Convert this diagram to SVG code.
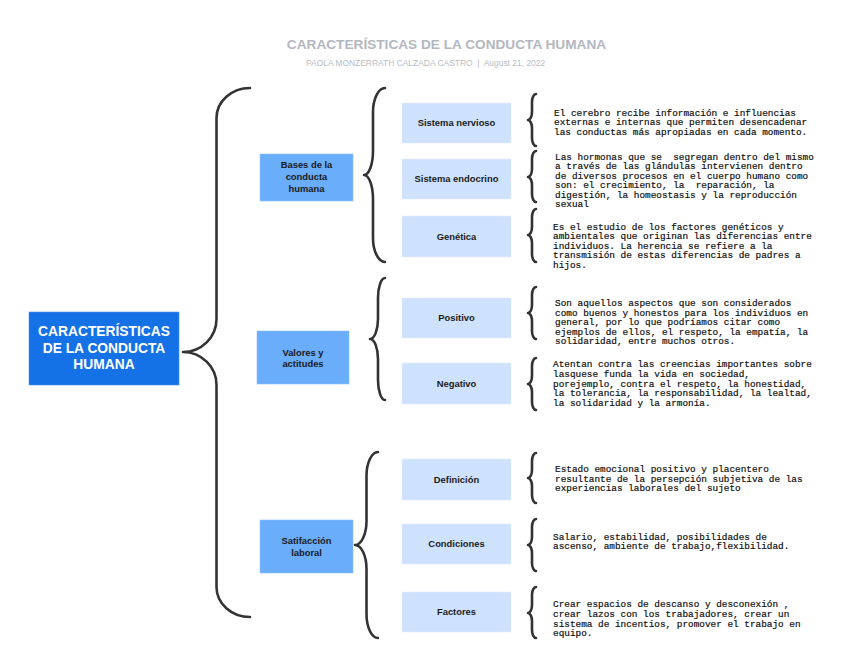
<svg xmlns="http://www.w3.org/2000/svg" width="848" height="655" viewBox="0 0 848 655" xml:space="preserve">
<style>
text{white-space:pre}
.title{font-family:"Liberation Sans",Arial,sans-serif;font-weight:bold;font-size:13.65px;fill:#b3b7bf;text-anchor:middle}
.sub{font-family:"Liberation Sans",Arial,sans-serif;font-size:8.45px;fill:#b9bcc4}
.main{fill:#1472e6;stroke:#4d95f0;stroke-width:0.6}
.mainT{font-family:"Liberation Sans",Arial,sans-serif;font-weight:bold;font-size:13.8px;fill:#ffffff;text-anchor:middle}
.cat{fill:#6aadfb;stroke:#8cc0fc;stroke-width:0.6}
.sb{fill:#cfe2fd;stroke:#e0ecfe;stroke-width:0.6}
.lbl{font-family:"Liberation Sans",Arial,sans-serif;font-weight:bold;font-size:9.4px;fill:#1a1a1a;text-anchor:middle}
.desc text{font-family:"Liberation Mono","Courier New",monospace;font-size:9.4px;fill:#111;stroke:#111;stroke-width:0.2;white-space:pre}
.br{fill:none;stroke:#333;stroke-width:2.6;stroke-linecap:round;stroke-linejoin:round}
</style>
<rect width="848" height="655" fill="#ffffff"/>
<text class="title" x="446.5" y="49">CARACTERÍSTICAS DE LA CONDUCTA HUMANA</text>
<text class="sub" x="306" y="65.5">PAOLA MONZERRATH CALZADA CASTRO  |  August 21, 2022</text>
<g id="connectors">
<path class="br" d="M250,88 C231.6,88 216.5,101.5 216.5,118 L216.5,319 C216.5,337.2 201.4,352 183,352 C201.4,352 216.5,366.8 216.5,385 L216.5,587 C216.5,603.5 231.6,617 250,617"/>
<path class="br" d="M385,88 C378.4,88 373,98.8 373,112 L373,151 C373,164.2 369,175 364,175 C369,175 373,185.8 373,199 L373,238 C373,251.2 378.4,262 385,262"/>
<path class="br" d="M385,278 C381.2,278 378,287 378,298 L378,319 C378,330 374.4,339 370,339 C374.4,339 378,348 378,359 L378,380 C378,391 381.2,400 385,400"/>
<path class="br" d="M378,452 C371.7,452 366.5,462.8 366.5,476 L366.5,521 C366.5,534.2 361.3,545 355,545 C361.3,545 366.5,555.8 366.5,569 L366.5,614 C366.5,627.2 371.7,638 378,638"/>
<path class="br" d="M536,94 C533.8,94 532,97.6 532,102 L532,112 C532,116.4 530.2,120 528,120 C530.2,120 532,123.6 532,128 L532,138 C532,142.4 533.8,146 536,146"/>
<path class="br" d="M536,151 C533.8,151 532,154.6 532,159 L532,169 C532,173.4 530.2,177 528,177 C530.2,177 532,180.6 532,185 L532,194 C532,198.4 533.8,202 536,202"/>
<path class="br" d="M536,209 C533.8,209 532,212.6 532,217 L532,227 C532,231.4 530.2,235 528,235 C530.2,235 532,238.6 532,243 L532,254 C532,258.4 533.8,262 536,262"/>
<path class="br" d="M536,287 C533.8,287 532,290.6 532,295 L532,305 C532,309.4 530.2,313 528,313 C530.2,313 532,316.6 532,321 L532,331 C532,335.4 533.8,339 536,339"/>
<path class="br" d="M536,358 C533.8,358 532,361.6 532,366 L532,376 C532,380.4 530.2,384 528,384 C530.2,384 532,387.6 532,392 L532,402 C532,406.4 533.8,410 536,410"/>
<path class="br" d="M536,453 C533.8,453 532,456.6 532,461 L532,470 C532,474.4 530.2,478 528,478 C530.2,478 532,481.6 532,486 L532,495 C532,499.4 533.8,503 536,503"/>
<path class="br" d="M536,519 C533.8,519 532,522.6 532,527 L532,537 C532,541.4 530.2,545 528,545 C530.2,545 532,548.6 532,553 L532,563 C532,567.4 533.8,571 536,571"/>
<path class="br" d="M536,587 C533.8,587 532,590.6 532,595 L532,605 C532,609.4 530.2,613 528,613 C530.2,613 532,616.6 532,621 L532,630 C532,634.4 533.8,638 536,638"/>
</g>
<g id="root">
<rect class="main" x="29" y="312" width="150" height="73"/>
<text class="mainT" x="104" y="335.7">CARACTERÍSTICAS</text>
<text class="mainT" x="104" y="352.5">DE LA CONDUCTA</text>
<text class="mainT" x="104" y="369.3">HUMANA</text>
</g>
<g id="bases">
<rect class="cat" x="260" y="154" width="93" height="47"/>
<text class="lbl" x="306.5" y="168.4">Bases de la</text>
<text class="lbl" x="306.5" y="180">conducta</text>
<text class="lbl" x="306.5" y="191.7">humana</text>
</g>
<g id="valores">
<rect class="cat" x="257" y="331" width="92" height="53"/>
<text class="lbl" x="303" y="355.7">Valores y</text>
<text class="lbl" x="303" y="367.4">actitudes</text>
</g>
<g id="satisfaccion">
<rect class="cat" x="260" y="520" width="93" height="53"/>
<text class="lbl" x="306.5" y="544">Satifacción</text>
<text class="lbl" x="306.5" y="555.7">laboral</text>
</g>
<g id="nervioso">
<rect class="sb" x="402" y="103" width="109" height="40"/>
<text class="lbl" x="456.5" y="126.3">Sistema nervioso</text>
</g>
<g id="endocrino">
<rect class="sb" x="402" y="159" width="109" height="40"/>
<text class="lbl" x="456.5" y="182.3">Sistema endocrino</text>
</g>
<g id="genetica">
<rect class="sb" x="402" y="216" width="109" height="41"/>
<text class="lbl" x="456.5" y="239.8">Genética</text>
</g>
<g id="positivo">
<rect class="sb" x="402" y="298" width="109" height="40"/>
<text class="lbl" x="456.5" y="321.3">Positivo</text>
</g>
<g id="negativo">
<rect class="sb" x="402" y="363" width="109" height="41"/>
<text class="lbl" x="456.5" y="386.8">Negativo</text>
</g>
<g id="definicion">
<rect class="sb" x="402" y="459" width="109" height="41"/>
<text class="lbl" x="456.5" y="482.8">Definición</text>
</g>
<g id="condiciones">
<rect class="sb" x="402" y="524" width="109" height="40"/>
<text class="lbl" x="456.5" y="547.3">Condiciones</text>
</g>
<g id="factores">
<rect class="sb" x="402" y="592" width="109" height="40"/>
<text class="lbl" x="456.5" y="615.3">Factores</text>
</g>
<g id="desc-nervioso" class="desc">
<text x="554" y="115.5">El cerebro recibe información e influencias</text>
<text x="554" y="125">externas e internas que permiten desencadenar</text>
<text x="554" y="134.5">las conductas más apropiadas en cada momento.</text>
</g>
<g id="desc-endocrino" class="desc">
<text x="555" y="160">Las hormonas que se  segregan dentro del mismo</text>
<text x="555" y="169.4">a través de las glándulas intervienen dentro</text>
<text x="555" y="178.8">de diversos procesos en el cuerpo humano como</text>
<text x="555" y="188.2">son: el crecimiento, la  reparación, la</text>
<text x="555" y="197.6">digestión, la homeostasis y la reproducción</text>
<text x="555" y="207">sexual</text>
</g>
<g id="desc-genetica" class="desc">
<text x="553" y="229.5">Es el estudio de los factores genéticos y</text>
<text x="553" y="239">ambientales que originan las diferencias entre</text>
<text x="553" y="248.5">individuos. La herencia se refiere a la</text>
<text x="553" y="258">transmisión de estas diferencias de padres a</text>
<text x="553" y="267.5">hijos.</text>
</g>
<g id="desc-positivo" class="desc">
<text x="555" y="306.3">Son aquellos aspectos que son considerados</text>
<text x="555" y="315.7">como buenos y honestos para los individuos en</text>
<text x="555" y="325.1">general, por lo que podríamos citar como</text>
<text x="555" y="334.5">ejemplos de ellos, el respeto, la empatía, la</text>
<text x="555" y="343.9">solidaridad, entre muchos otros.</text>
</g>
<g id="desc-negativo" class="desc">
<text x="553" y="367.3">Atentan contra las creencias importantes sobre</text>
<text x="553" y="376.9">lasquese funda la vida en sociedad,</text>
<text x="553" y="386.5">porejemplo, contra el respeto, la honestidad,</text>
<text x="553" y="396.1">la tolerancia, la responsabilidad, la lealtad,</text>
<text x="553" y="405.7">la solidaridad y la armonía.</text>
</g>
<g id="desc-definicion" class="desc">
<text x="555" y="472">Estado emocional positivo y placentero</text>
<text x="555" y="481.6">resultante de la persepción subjetiva de las</text>
<text x="555" y="491.2">experiencias laborales del sujeto</text>
</g>
<g id="desc-condiciones" class="desc">
<text x="553" y="539.7">Salario, estabilidad, posibilidades de</text>
<text x="553" y="549.3">ascenso, ambiente de trabajo,flexibilidad.</text>
</g>
<g id="desc-factores" class="desc">
<text x="553" y="607.3">Crear espacios de descanso y desconexión ,</text>
<text x="553" y="616.9">crear lazos con los trabajadores, crear un</text>
<text x="553" y="626.5">sistema de incentios, promover el trabajo en</text>
<text x="553" y="636.1">equipo.</text>
</g>
</svg>
